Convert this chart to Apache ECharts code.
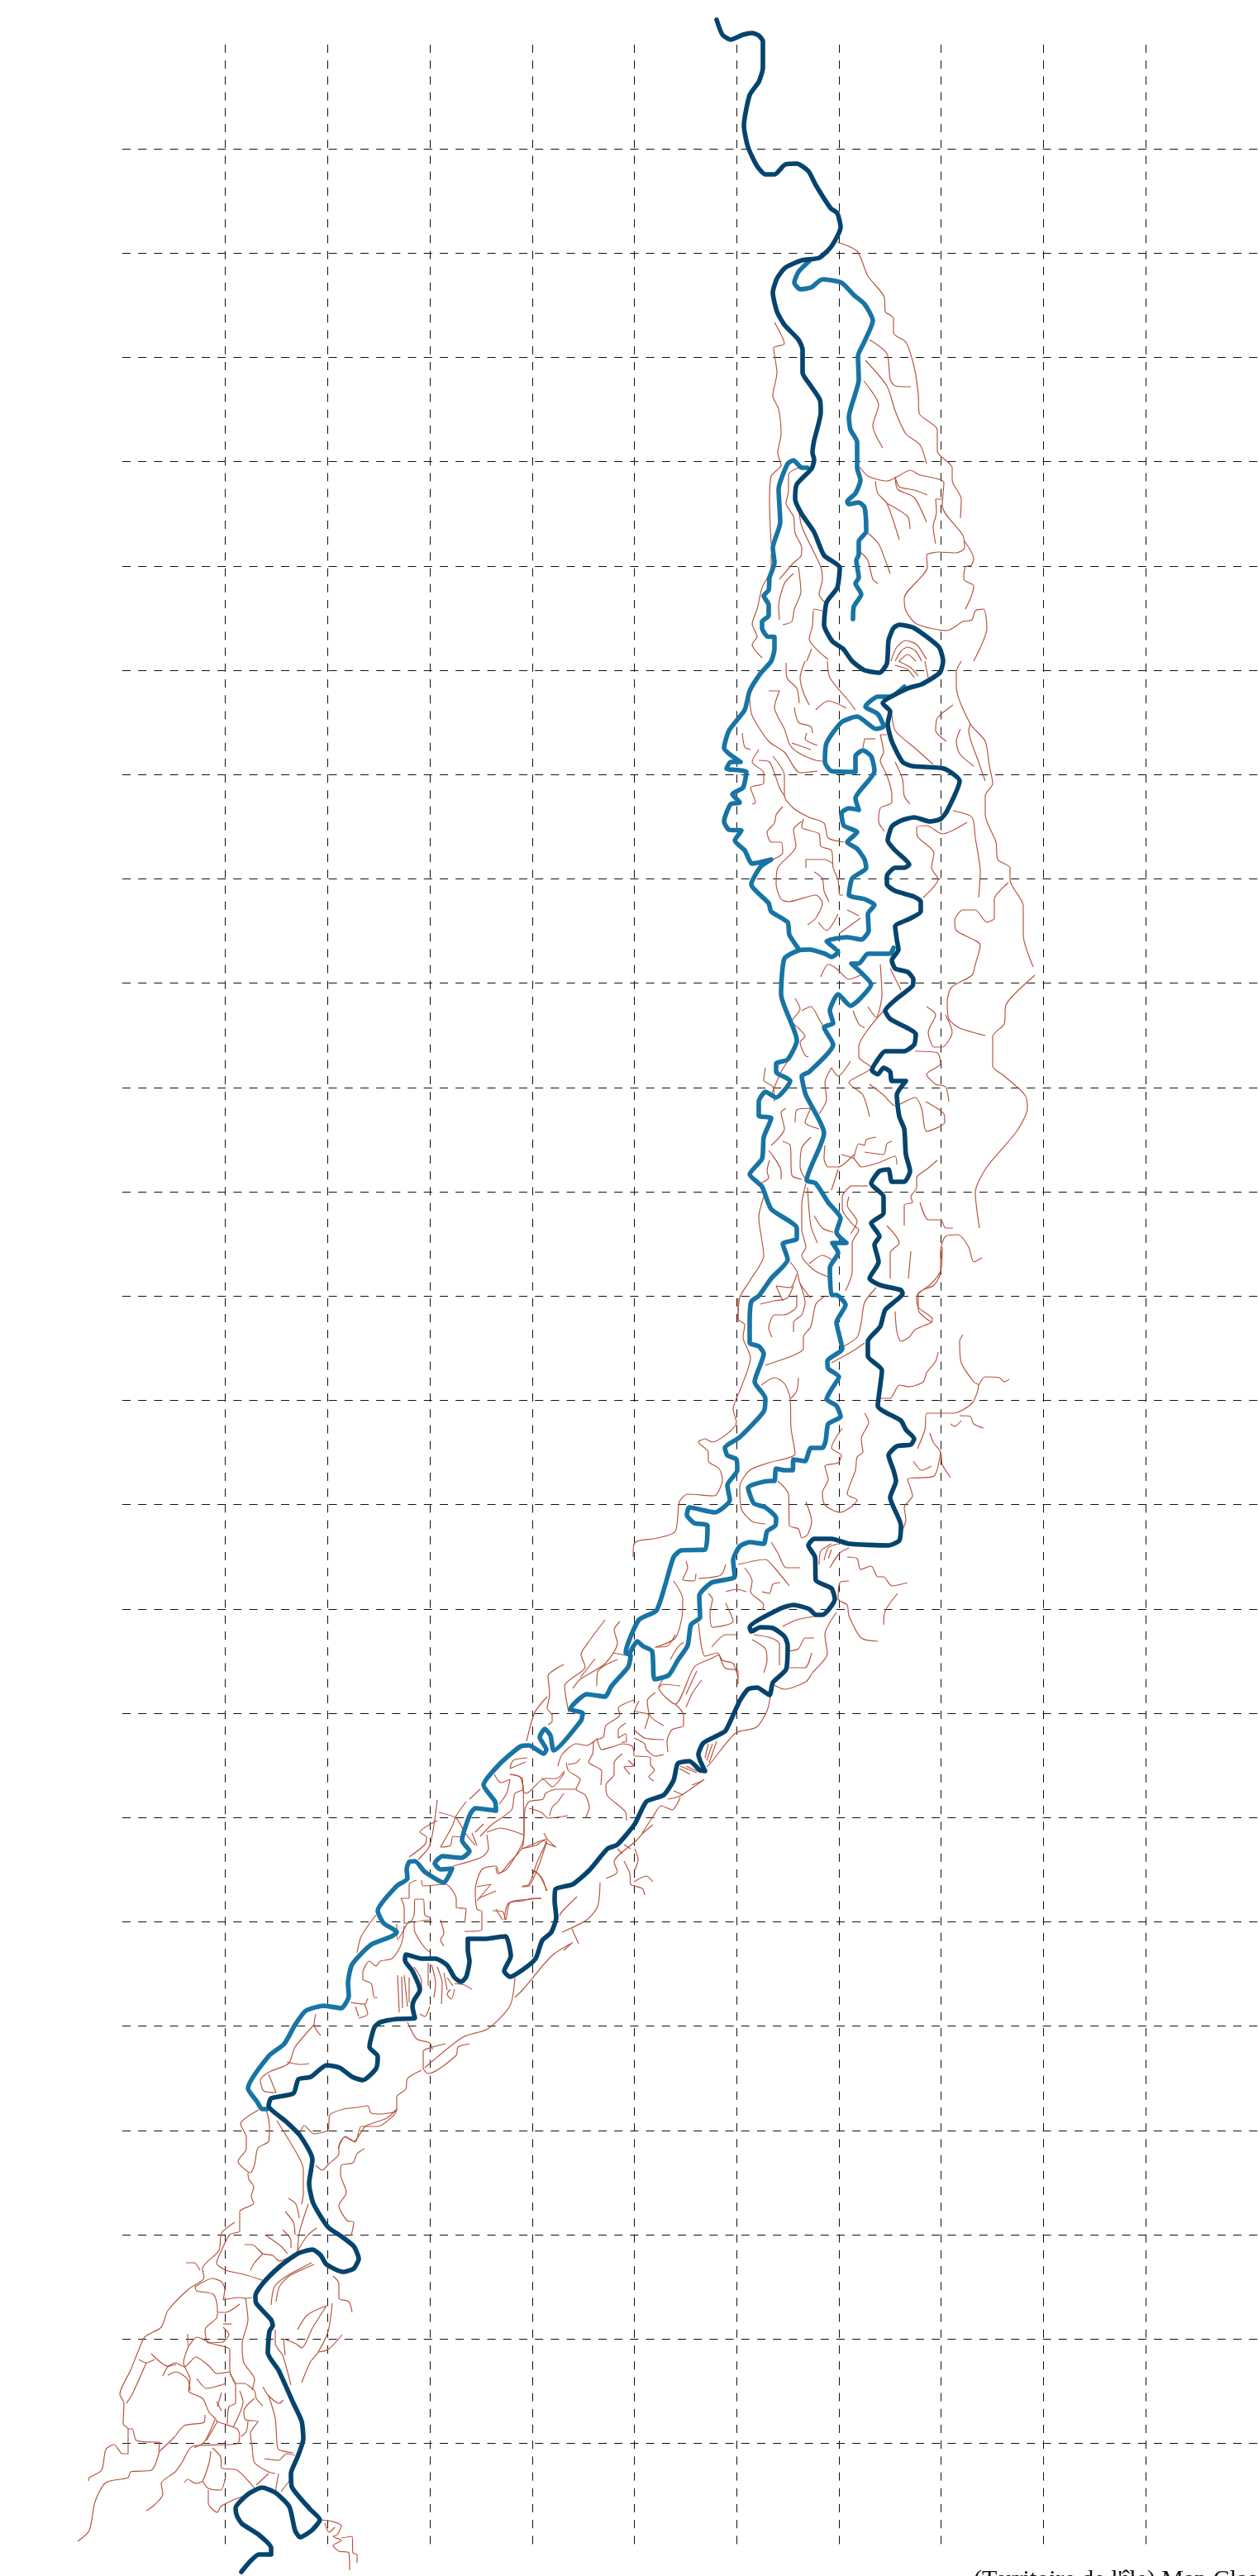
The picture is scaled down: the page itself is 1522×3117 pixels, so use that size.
<!DOCTYPE html>
<html><head><meta charset="utf-8">
<style>html,body{margin:0;padding:0;background:#fff}#c{width:1522px;height:3117px}</style>
<script src="https://cdn.jsdelivr.net/npm/echarts@6/dist/echarts.min.js"></script>
</head><body><div id="c"></div>
<script>
// Map traces, in page-scaled map units (x east, y south)
const channelMain = [[867,24],[874,42],[884,48],[899,42],[910,40],[918,43],[923,50],[923,82],[918,99],[907,115],[900,152],[905,178],[916,201],[926,211],[937,211],[950,199],[964,198],[978,207],[987,224],[1005,252],[1013,258],[1017,275],[1006,298],[991,312],[970,315],[950,324],[940,337],[935,354],[940,377],[949,393],[966,411],[971,423],[971,451],[981,467],[992,484],[993,499],[985,533],[983,548],[985,556],[982,567],[964,586],[962,604],[970,622],[985,644],[997,672],[1016,687],[1013,711],[1000,729],[997,756],[1007,776],[1020,785],[1031,800],[1046,811],[1064,814],[1073,803],[1075,775],[1081,760],[1088,756],[1106,760],[1136,783],[1141,800],[1137,814],[1115,828],[1098,833],[1068,851],[1077,861],[1074,876],[1079,897],[1092,922],[1104,927],[1142,930],[1161,945],[1146,981],[1138,991],[1125,994],[1106,989],[1090,993],[1079,1000],[1074,1017],[1083,1029],[1100,1046],[1094,1050],[1083,1050],[1073,1060],[1073,1070],[1083,1078],[1106,1085],[1114,1091],[1114,1103],[1102,1111],[1083,1121],[1085,1137],[1087,1149],[1079,1162],[1083,1172],[1098,1176],[1105,1185],[1104,1193],[1083,1210],[1071,1223],[1077,1233],[1098,1244],[1108,1251],[1106,1264],[1094,1272],[1071,1272],[1062,1282],[1055,1295],[1062,1300],[1069,1292],[1077,1297],[1079,1308],[1096,1308],[1085,1325],[1088,1351],[1094,1366],[1096,1397],[1101,1417],[1094,1430],[1079,1430],[1075,1415],[1064,1417],[1054,1432],[1069,1448],[1069,1468],[1054,1480],[1064,1496],[1058,1506],[1063,1527],[1052,1547],[1065,1555],[1090,1561],[1092,1565],[1071,1585],[1065,1605],[1050,1623],[1050,1641],[1067,1658],[1062,1701],[1090,1719],[1096,1730],[1106,1741],[1102,1748],[1085,1750],[1075,1761],[1081,1779],[1084,1792],[1077,1812],[1090,1846],[1088,1864],[1075,1870],[1027,1868],[1006,1862],[985,1862],[978,1870],[986,1884],[987,1912],[1006,1922],[1010,1935],[995,1954],[987,1954],[979,1947],[960,1942],[945,1946],[907,1969],[909,1974],[920,1969],[935,1970],[949,1980],[953,1991],[951,2020],[935,2036],[931,2051],[916,2042],[905,2044],[895,2058],[878,2094],[868,2100],[851,2109],[845,2123],[853,2143],[847,2142],[834,2131],[820,2134],[815,2154],[803,2172],[782,2180],[768,2207],[747,2232],[735,2237],[713,2263],[693,2280],[672,2286],[671,2300],[673,2320],[667,2338],[656,2348],[648,2370],[633,2383],[617,2392],[610,2385],[618,2367],[612,2343],[602,2344],[587,2346],[566,2346],[566,2360],[568,2373],[564,2392],[558,2398],[550,2393],[541,2378],[527,2370],[510,2370],[491,2365],[490,2372],[499,2385],[508,2408],[501,2420],[499,2428],[502,2442],[480,2443],[460,2447],[453,2453],[447,2477],[457,2488],[455,2503],[439,2517],[426,2513],[411,2502],[395,2499],[376,2513],[361,2516],[355,2533],[328,2539],[325,2548],[346,2567],[363,2584],[378,2613],[374,2642],[379,2666],[397,2695],[413,2706],[428,2718],[434,2733],[428,2745],[415,2749],[395,2740],[388,2729],[378,2722],[360,2727],[338,2743],[318,2763],[309,2778],[310,2787],[328,2807],[330,2814],[326,2821],[324,2847],[337,2868],[355,2908],[365,2930],[367,2951],[360,2973],[352,2993],[353,3009],[375,3036],[387,3049],[377,3062],[363,3070],[357,3062],[350,3033],[333,3016],[317,3010],[300,3018],[285,3035],[287,3045],[293,3054],[313,3067],[328,3083],[328,3091],[313,3091],[302,3100],[292,3112]];
const channelEastStub = [[979,316],[966,329],[961,342],[968,350],[981,348],[995,338],[1018,342],[1033,357],[1046,368],[1056,388],[1046,413],[1038,431],[1039,459],[1027,505],[1029,520],[1037,535],[1037,566],[1041,581],[1035,597],[1025,607],[1027,610],[1039,608],[1046,614],[1048,643],[1039,655],[1039,671],[1036,678],[1039,699],[1035,706],[1042,719],[1033,734],[1032,749]];
const channelWest = [[977,566],[970,566],[960,557],[953,561],[942,592],[944,632],[935,663],[937,681],[931,699],[930,714],[924,721],[930,732],[930,745],[922,752],[922,760],[928,770],[937,771],[937,785],[933,800],[920,815],[907,836],[901,859],[882,884],[876,905],[896,922],[884,922],[879,930],[903,934],[899,953],[886,961],[895,971],[884,973],[876,994],[882,1004],[897,1005],[889,1017],[901,1029],[910,1045],[933,1040],[920,1049],[909,1070],[930,1093],[933,1103],[953,1116],[955,1131],[966,1148]];
const channelMiddle = [[1094,831],[1077,843],[1062,843],[1047,855],[1062,864],[1069,879],[1060,882],[1037,867],[1018,874],[1000,899],[998,922],[1006,933],[1035,934],[1035,915],[1044,908],[1054,915],[1058,933],[1035,966],[1039,980],[1027,978],[1018,984],[1021,999],[1037,1007],[1025,1019],[1037,1027],[1046,1040],[1048,1050],[1031,1063],[1027,1083],[1046,1088],[1058,1095],[1050,1106],[1051,1126],[1042,1137],[1025,1134],[1000,1139],[1014,1152],[1006,1158],[998,1154],[979,1149],[966,1150],[949,1160],[945,1203],[964,1259],[953,1282],[939,1287],[939,1297],[956,1308],[939,1328],[926,1321],[918,1333],[918,1350],[933,1353],[924,1376],[922,1402],[907,1421],[922,1436],[933,1463],[964,1486],[964,1499],[947,1505],[953,1524],[933,1547],[918,1568],[909,1575],[907,1600],[907,1625],[918,1629],[924,1638],[913,1672],[926,1692],[924,1708],[895,1739],[877,1752],[880,1761],[891,1766],[892,1779],[880,1797],[883,1815],[865,1830],[834,1824],[831,1833],[840,1843],[856,1846],[853,1875],[824,1876],[815,1884],[805,1917],[794,1949],[773,1960],[757,2000],[763,2003],[760,2017],[740,2040],[732,2053],[710,2050],[690,2068],[705,2073],[703,2082],[670,2118],[666,2100],[659,2092],[653,2102],[661,2117],[658,2122],[640,2112],[630,2113],[604,2135],[585,2160],[599,2180],[600,2191],[575,2188],[568,2197],[559,2227],[568,2240],[558,2248],[535,2246],[526,2255],[533,2262],[547,2261],[537,2278],[514,2265],[502,2252],[495,2253],[492,2262],[493,2273],[480,2282],[457,2312],[464,2327],[480,2338],[474,2343],[449,2353],[426,2377],[421,2400],[422,2415],[413,2430],[392,2427],[370,2433],[357,2450],[344,2473],[325,2488],[300,2527],[311,2543],[317,2552],[323,2552]];
const channelInner = [[1081,1147],[1077,1154],[1050,1154],[1039,1166],[1030,1166],[1042,1177],[1054,1191],[1039,1210],[1029,1217],[1014,1203],[1004,1223],[1008,1238],[997,1243],[1008,1264],[979,1297],[970,1302],[975,1325],[997,1371],[976,1428],[987,1432],[1002,1455],[1017,1474],[1012,1491],[1024,1504],[1007,1504],[1014,1516],[1004,1534],[1006,1567],[1012,1567],[1023,1579],[1012,1600],[1016,1618],[1019,1632],[1001,1647],[1002,1656],[1015,1666],[1006,1681],[1000,1693],[1012,1701],[1017,1714],[1002,1723],[999,1743],[995,1752],[981,1752],[974,1768],[960,1766],[959,1779],[949,1779],[939,1777],[937,1792],[931,1792],[905,1800],[912,1819],[926,1824],[939,1837],[938,1846],[928,1853],[924,1868],[907,1866],[895,1871],[887,1888],[889,1908],[861,1915],[846,1931],[847,1957],[836,1966],[832,1991],[820,2009],[809,2027],[792,2032],[789,1998],[778,1992],[771,1986],[762,2000]];

const tributariesNorth = [
[[1013,293],[1037,304],[1050,334],[1070,360],[1071,377],[1081,385],[1081,403],[1096,414],[1106,444],[1111,477],[1112,500],[1134,520],[1134,546],[1152,566],[1152,581],[1163,604],[1162,627]],
[[1052,411],[1073,428],[1077,459],[1083,467],[1102,468]],
[[1047,436],[1073,467],[1083,497],[1096,525],[1113,538],[1121,561]],
[[1045,461],[1063,490],[1056,515],[1068,542]],
[[937,390],[949,416],[936,421],[940,451],[935,479],[942,495],[945,525],[941,548],[945,563],[933,576],[931,609],[933,658]],
[[1040,565],[1050,576],[1073,582],[1102,569],[1111,574],[1142,584],[1140,612],[1165,648],[1167,663],[1157,669],[1136,668],[1121,672],[1122,686],[1094,724],[1096,739],[1109,755],[1146,763],[1165,752],[1176,750],[1180,739],[1190,737],[1194,760],[1178,800]],
[[1167,655],[1178,676],[1175,684],[1168,686],[1166,701],[1178,709],[1175,722],[1168,737]],
[[1083,577],[1088,589],[1106,593],[1122,599]],
[[1083,577],[1086,592],[1106,602],[1121,632]],
[[1059,582],[1062,597],[1073,609],[1088,653]],
[[1073,609],[1098,625],[1101,640]],
[[1140,604],[1132,604],[1133,620],[1129,637],[1132,658]],
[[1050,645],[1063,658],[1073,683],[1077,694]],
[[1041,668],[1050,678],[1056,701],[1062,706]],
[[966,566],[954,574],[954,594],[951,609],[960,625],[962,645],[970,663],[969,673],[960,681],[943,701]],
[[966,612],[970,637],[993,686],[995,701],[991,719],[998,729]],
[[933,671],[933,688],[922,711],[916,737],[910,755],[916,770],[910,780],[922,796]],
[[960,694],[949,706],[942,734],[943,750]],
[[966,686],[969,716],[961,737],[958,752],[947,756]],
[[995,739],[985,737],[983,757],[979,773],[1002,798]],
[[1078,800],[1085,783],[1096,775],[1109,780],[1121,798]],
[[1083,800],[1090,788],[1098,783],[1108,788],[1115,800]],
[[1088,800],[1098,792],[1108,800]],
[[1083,805],[1098,810],[1106,820]],
[[1087,800],[1102,808],[1111,818]],
[[1119,800],[1123,820]],
[[982,785],[976,800]],
[[974,800],[968,820],[972,838],[979,853]],
[[951,802],[952,820],[964,833],[967,851]],
[[1001,800],[1004,820],[1025,846],[1035,859]],
[[987,859],[1002,848],[1012,851],[1024,857]],
[[930,836],[943,836],[937,856],[949,882],[956,902],[968,912],[987,920],[995,921]],
[[907,846],[910,866],[930,897],[949,910],[968,935],[989,933]],
[[961,856],[966,874],[981,879],[983,887]],
[[976,887],[974,894],[989,902]],
[[958,899],[981,907]],
[[898,887],[901,904],[908,907]],
[[935,915],[949,938],[949,963],[960,978],[979,989],[997,996],[1002,1014],[1021,1019]],
[[918,907],[910,922],[924,935],[924,948],[908,953],[914,971],[910,973]],
[[918,920],[931,922],[943,953],[949,963]],
[[947,976],[939,986],[937,996],[928,1007],[933,1019],[945,1019],[947,1032],[935,1040]],
[[970,994],[960,1004],[963,1024],[941,1050],[939,1070],[945,1088],[954,1091],[987,1083],[995,1093],[987,1111],[977,1119]],
[[972,991],[970,1001],[991,1009],[993,1024],[1006,1029],[1008,1050],[1014,1065],[1016,1083],[1020,1083]],
[[975,1050],[975,1040],[987,1040],[997,1040],[1008,1045]],
[[985,1055],[995,1063],[997,1078],[1003,1091]],
[[1046,894],[1059,894]],
[[1046,894],[1044,905]],
[[1073,889],[1065,889],[1069,910],[1065,920],[1073,938],[1079,961],[1079,971],[1065,978],[1063,994],[1070,1006]],
[[1083,922],[1092,943],[1094,963],[1101,973]],
[[1079,864],[1083,884],[1109,907],[1129,925]],
[[1153,853],[1134,869],[1132,884],[1145,897]],
[[1162,882],[1157,897],[1161,912],[1178,927]],
[[1174,876],[1172,884],[1184,922],[1192,945]],
[[1163,800],[1157,813],[1157,831],[1174,876],[1192,897],[1197,927],[1201,948],[1192,963],[1192,986],[1205,1019],[1207,1040],[1222,1050],[1222,1065],[1238,1096],[1238,1131],[1250,1170]],
[[1153,981],[1176,989],[1180,1014],[1186,1055],[1184,1086]],
[[1170,995],[1140,1009],[1121,999],[1109,1001],[1110,1012],[1130,1032],[1127,1050],[1135,1064],[1117,1086]],
[[1220,1068],[1203,1088],[1203,1111],[1194,1116],[1180,1101],[1165,1101],[1155,1114],[1157,1126],[1186,1144],[1180,1167],[1176,1180],[1151,1195],[1146,1213],[1148,1233],[1161,1244],[1192,1253]],
[[1252,1180],[1217,1216],[1215,1239],[1201,1254],[1201,1290],[1215,1302],[1240,1325],[1243,1341],[1230,1369],[1194,1412],[1180,1443],[1185,1486]]
];
const tributariesMiddle = [
[[1121,1218],[1132,1228],[1123,1249],[1130,1267],[1140,1267],[1152,1249],[1144,1228]],
[[1107,1272],[1134,1274],[1138,1287],[1121,1300],[1132,1312],[1144,1315],[1148,1333]],
[[1120,1333],[1142,1348],[1143,1358],[1121,1369],[1115,1341],[1107,1328],[1083,1338],[1069,1325],[1052,1312]],
[[1069,1223],[1039,1267],[1039,1279],[1054,1292],[1027,1310],[1044,1325],[1052,1351]],
[[1065,1167],[1067,1203],[1060,1231],[1050,1218]],
[[1077,1172],[1090,1198]],
[[993,1182],[1002,1167],[1012,1172],[1027,1185],[1041,1180]],
[[1032,1223],[1039,1239],[1046,1244]],
[[962,1208],[968,1221],[958,1236],[966,1244],[974,1254],[968,1261],[974,1277],[978,1279]],
[[970,1223],[981,1218],[991,1233],[997,1244]],
[[990,1116],[1000,1126],[1014,1106]],
[[1016,1129],[1041,1111]],
[[1025,1101],[1039,1108]],
[[926,1292],[924,1307],[935,1315],[937,1333]],
[[953,1284],[945,1297],[933,1325]],
[[1006,1292],[1014,1302],[1029,1284]],
[[1006,1292],[998,1310],[1000,1330],[991,1348]],
[[951,1341],[945,1346],[949,1366],[933,1386]],
[[962,1358],[964,1343],[981,1341],[974,1358],[991,1366]],
[[947,1381],[956,1386],[958,1422],[970,1427]],
[[981,1376],[970,1389],[968,1412],[975,1428]],
[[930,1392],[945,1417],[945,1427]],
[[931,1404],[928,1417],[930,1425],[920,1432]],
[[998,1386],[997,1402],[1002,1412],[1014,1412],[1033,1397]],
[[1018,1397],[1033,1402],[1042,1412],[1063,1407],[1083,1399],[1085,1409]],
[[1033,1402],[1039,1384],[1046,1386],[1048,1379],[1060,1376]],
[[1046,1394],[1069,1397],[1073,1384],[1079,1381]],
[[1006,1440],[1014,1415]],
[[1134,1404],[1121,1415],[1109,1425],[1109,1437],[1102,1448],[1104,1455],[1094,1458],[1094,1483]],
[[1113,1455],[1123,1476],[1138,1476],[1144,1486],[1153,1486]],
[[1188,1522],[1178,1527],[1172,1509],[1159,1494],[1144,1496],[1138,1514],[1138,1539],[1130,1555],[1111,1565],[1111,1585],[1127,1600]],
[[1102,1514],[1099,1547]],
[[1073,1483],[1088,1504],[1077,1516],[1077,1547]],
[[1029,1435],[1019,1448],[1019,1463],[1033,1483],[1039,1488],[1031,1504],[1031,1539],[1023,1562]],
[[1050,1435],[1029,1435]],
[[1027,1448],[1025,1458],[1037,1478],[1029,1493]],
[[975,1432],[970,1458],[970,1488],[975,1509],[970,1519],[985,1537],[1002,1545]],
[[977,1437],[981,1483],[989,1504]],
[[985,1471],[995,1486],[1008,1491]],
[[979,1529],[995,1519],[1006,1524]],
[[924,1448],[918,1473],[924,1519],[907,1550],[895,1570],[893,1600]],
[[956,1527],[964,1538],[968,1553],[981,1571]],
[[964,1542],[956,1558],[939,1556],[947,1574]],
[[920,1578],[937,1574],[952,1571],[960,1556]],
[[968,1553],[974,1576],[970,1591],[960,1600],[960,1612]],
[[964,1567],[964,1580],[949,1591],[937,1591],[930,1607],[934,1618]],
[[997,1569],[987,1578],[981,1605],[972,1618],[972,1632],[960,1640],[926,1652]],
[[1060,1558],[1046,1576],[1042,1600],[1037,1618],[1021,1629]],
[[1046,1625],[1033,1634],[1006,1649]],
[[1083,1587],[1085,1611],[1090,1623],[1100,1618],[1107,1609],[1127,1600],[1128,1596],[1111,1582],[1109,1569],[1127,1553],[1138,1538],[1140,1509]],
[[893,1571],[893,1596],[901,1603],[899,1618],[908,1643],[897,1678],[887,1705],[891,1721],[861,1745],[853,1741],[845,1745],[857,1757],[857,1768],[870,1777],[874,1790],[864,1810],[832,1808],[822,1817],[817,1853],[796,1861],[774,1864],[767,1868],[766,1884]],
[[921,1676],[937,1667],[949,1674],[956,1692],[957,1728],[962,1759],[930,1770],[907,1779],[895,1799],[897,1826],[910,1841],[926,1844]],
[[966,1667],[964,1683],[957,1692]],
[[941,1792],[954,1808],[955,1846],[966,1850],[970,1861],[977,1857],[982,1841],[975,1817]],
[[1019,1728],[1006,1752],[1018,1761],[1014,1770],[998,1774],[1002,1790],[995,1806],[998,1821],[1016,1830],[1029,1824],[1037,1815],[1025,1808],[1035,1779],[1037,1763],[1044,1757],[1042,1741],[1051,1721],[1046,1710]],
[[1135,1636],[1132,1647],[1121,1661],[1117,1672],[1100,1678],[1088,1676],[1077,1692],[1065,1692]],
[[1165,1615],[1161,1623],[1163,1649],[1178,1672],[1184,1676],[1176,1698],[1153,1710],[1121,1710],[1119,1730],[1110,1753]],
[[1184,1676],[1192,1666],[1209,1667],[1215,1672],[1221,1669]],
[[1150,1723],[1155,1726],[1163,1719]],
[[1161,1713],[1174,1714],[1178,1723],[1190,1728]],
[[1125,1734],[1129,1745],[1138,1757],[1140,1772],[1150,1788]],
[[1138,1757],[1130,1786],[1098,1790],[1104,1810],[1094,1824],[1096,1839],[1090,1855]],
[[1105,1768],[1115,1779],[1127,1774]],
[[1025,1884],[1037,1886],[1041,1899],[1054,1895],[1062,1908],[1069,1908],[1079,1919],[1098,1915]],
[[991,1893],[993,1877],[1006,1868]],
[[997,1888],[1002,1873],[1014,1868]],
[[1002,1886],[1006,1875]],
[[1004,1897],[1016,1879],[1027,1873]],
[[1027,1913],[1016,1915],[1014,1935],[1025,1942],[1027,1955],[1042,1982],[1062,1986]],
[[1086,1928],[1071,1949],[1069,1966]],
[[1012,1951],[998,1978],[1001,2001],[983,2024],[975,2035],[949,2044],[935,2038]],
[[991,1955],[964,1960],[947,1968]],
[[912,1978],[933,1982],[943,1989],[943,2015]],
[[910,1984],[926,1995],[928,2009],[924,2024]],
[[982,2000],[974,2018],[954,2018]],
[[954,1998],[966,1995],[974,1982],[985,1982]],
[[893,1893],[926,1887],[937,1897],[955,1919]],
[[933,1866],[941,1879],[951,1897],[968,1897]],
[[901,1897],[910,1913],[908,1926],[924,1942],[922,1948]],
[[922,1926],[931,1928],[935,1917],[944,1915]],
[[878,1893],[872,1906],[845,1910]],
[[830,1889],[832,1897],[826,1911],[840,1913],[842,1904]],
[[815,1913],[826,1935],[825,1957],[817,1982],[794,1993]],
[[857,1928],[862,1935],[859,1951],[862,1969],[887,1962],[878,1940]],
[[878,1926],[891,1923],[903,1926]],
[[845,1964],[853,2004],[868,2000],[874,2009],[887,2013],[893,2031]],
[[891,1978],[878,1978],[861,1993]]
];
const tributariesDelta = [
[[682,2014],[663,2028],[665,2050],[662,2067],[668,2075],[668,2083],[663,2087]],
[[662,2053],[647,2072],[637,2107]],
[[732,1960],[712,1987],[703,2002],[708,2017],[683,2040],[688,2072]],
[[750,1962],[743,1972],[747,1988],[732,2013],[702,2032],[693,2043]],
[[720,2007],[702,2030]],
[[742,2000],[757,2003]],
[[747,2008],[732,2015],[723,2023],[722,2040]],
[[792,1993],[807,1992],[817,1978]],
[[811,2008],[820,1993],[827,1987]],
[[870,2002],[860,2007],[840,2017],[817,2062],[797,2042],[802,2032]],
[[797,2042],[802,2038],[823,2040]],
[[843,2022],[830,2050]],
[[849,2033],[838,2048],[830,2066]],
[[870,2002],[877,2018],[893,2022],[893,2038]],
[[817,2062],[827,2075],[827,2088],[813,2093],[807,2107],[808,2120]],
[[767,2057],[748,2067],[750,2075],[733,2088],[730,2102],[722,2105],[710,2112],[697,2110],[680,2123],[675,2137]],
[[793,2048],[783,2058],[787,2077],[803,2088]],
[[773,2058],[768,2070],[785,2075],[780,2092]],
[[767,2093],[780,2103],[803,2105]],
[[767,2103],[780,2110],[782,2117],[793,2125],[803,2123]],
[[768,2125],[787,2127],[787,2135],[792,2142],[785,2150],[791,2155]],
[[760,2130],[767,2137],[755,2138],[762,2147]],
[[722,2103],[728,2117],[743,2113],[753,2110],[765,2113],[767,2125]],
[[718,2107],[717,2122],[712,2132],[728,2143],[727,2160]],
[[753,2122],[743,2133],[743,2147],[733,2160],[735,2173],[757,2193],[758,2203]],
[[757,2085],[748,2093],[748,2103],[757,2098],[758,2107],[752,2108]],
[[685,2133],[688,2143],[702,2153],[697,2165],[708,2172],[713,2187],[708,2200]],
[[687,2135],[697,2133],[702,2128]],
[[697,2165],[673,2165],[660,2170],[657,2177],[640,2180],[635,2190],[633,2227],[623,2247],[613,2262],[602,2267],[600,2260]],
[[683,2145],[668,2162],[657,2153],[637,2170],[633,2167],[632,2152],[617,2147]],
[[655,2152],[673,2152],[683,2143]],
[[682,2170],[675,2180],[668,2187],[665,2197]],
[[687,2197],[663,2200],[655,2193],[640,2188]],
[[672,2235],[662,2225],[658,2218]],
[[662,2227],[650,2253],[640,2280],[632,2282]],
[[632,2237],[653,2228],[662,2225]],
[[643,2263],[652,2268],[662,2288]],
[[655,2297],[643,2297],[633,2300],[615,2303],[610,2323]],
[[600,2310],[608,2323]],
[[698,2295],[680,2313],[677,2318]],
[[726,2278],[723,2307],[710,2323],[680,2338]],
[[692,2334],[700,2352]],
[[693,2350],[682,2360]],
[[932,2053],[928,2070],[915,2090],[890,2097],[860,2133],[855,2138]],
[[857,2110],[853,2127]],[[862,2110],[855,2130]],[[867,2107],[858,2133]],
[[822,2140],[835,2147]],[[823,2137],[843,2145]],[[830,2137],[848,2145]],
[[850,2155],[837,2160]],
[[852,2153],[823,2173],[808,2177]],
[[823,2175],[813,2190],[800,2185],[790,2198],[777,2218]],
[[815,2167],[827,2172]],
[[790,2208],[778,2218],[770,2227],[743,2253],[747,2265],[733,2273]],
[[755,2232],[763,2237]],[[747,2237],[753,2243]],
[[768,2237],[772,2250],[768,2263]],
[[755,2252],[762,2267],[763,2280],[777,2285],[780,2293]],
[[767,2277],[782,2270],[790,2277]],
[[529,2178],[520,2233],[506,2250]],
[[495,2247],[514,2232],[516,2223],[508,2217],[529,2203]],
[[531,2193],[552,2200],[562,2217],[575,2233]],
[[564,2180],[552,2197],[547,2210],[533,2235],[545,2233],[548,2222],[558,2223]],
[[568,2177],[581,2165]],
[[598,2147],[606,2157],[617,2153],[613,2170],[604,2183]],
[[638,2127],[621,2130],[617,2140],[636,2132]],
[[617,2147],[629,2150],[633,2165],[623,2170],[619,2190],[596,2207],[581,2222]],
[[575,2217],[585,2207]],
[[571,2218],[577,2233]],
[[589,2220],[591,2237],[583,2247],[548,2258]],
[[589,2217],[606,2212],[619,2215],[633,2220]],
[[633,2160],[634,2220],[631,2237],[617,2253],[604,2267],[600,2258],[583,2262],[575,2287],[577,2310],[583,2313],[583,2335],[562,2337]],
[[631,2237],[648,2233],[659,2227],[661,2230],[673,2235]],
[[661,2230],[652,2257],[640,2282],[631,2283]],
[[646,2263],[656,2273],[661,2288]],
[[577,2283],[594,2280],[577,2300]],
[[579,2297],[600,2288]],
[[655,2297],[644,2298],[617,2302],[612,2323],[608,2313],[596,2312]],
[[510,2275],[512,2282],[539,2280],[552,2298],[552,2308],[564,2310],[562,2327]],
[[504,2275],[495,2280],[495,2297],[485,2297],[489,2308],[489,2327],[495,2327],[501,2317],[502,2298],[512,2298],[514,2317],[520,2320]],
[[522,2323],[501,2327],[502,2338],[514,2357],[520,2362]],
[[480,2328],[481,2347],[493,2327]],
[[489,2330],[487,2347],[483,2358],[474,2370],[460,2373],[455,2379],[447,2373],[439,2387],[439,2395],[449,2400],[453,2417],[457,2417]],
[[455,2317],[437,2343],[432,2363]],
[[533,2323],[537,2340],[533,2347],[537,2355]],
[[481,2390],[483,2435]],[[489,2390],[493,2428]],[[495,2393],[495,2423]],[[486,2392],[487,2430]],
[[501,2380],[510,2397],[510,2407]],[[518,2375],[518,2403]],[[522,2377],[527,2400],[525,2417]],[[529,2380],[535,2400],[534,2425]],[[537,2387],[541,2408]],[[541,2393],[548,2403]],
[[545,2407],[541,2413],[546,2419],[550,2407]],
[[550,2400],[562,2402],[571,2407]],
[[508,2437],[514,2440],[520,2428]],
[[424,2423],[441,2425],[445,2418]],
[[441,2425],[445,2437],[434,2442]],
[[430,2428],[434,2440]],
[[623,2393],[617,2427],[590,2455],[560,2465],[514,2502]],
[[623,2417],[633,2407],[667,2367],[690,2352]],
[[493,2447],[504,2467],[520,2472],[523,2480]],
[[539,2473],[520,2478],[512,2482],[512,2502],[518,2509],[552,2487],[554,2477],[568,2473]],
[[510,2505],[493,2515],[491,2528],[480,2537],[480,2553],[462,2558],[449,2557],[445,2548],[432,2550],[416,2552],[399,2559],[397,2577],[380,2582],[368,2572],[363,2580]],
[[480,2553],[476,2560],[457,2573],[437,2573],[430,2592],[418,2585],[409,2600]],
[[382,2437],[380,2450],[388,2463]],
[[380,2450],[357,2477],[349,2497],[326,2507],[315,2517],[319,2530],[334,2532],[325,2510]],
[[347,2495],[363,2498],[374,2497]]
];
const tributariesSouth = [
[[322,2552],[326,2572],[325,2591],[312,2599],[308,2619],[303,2629],[288,2615],[298,2600],[298,2586],[291,2570],[313,2553]],
[[300,2629],[301,2637],[307,2646],[304,2658],[307,2666],[290,2676],[290,2695],[290,2700],[278,2704],[268,2723],[262,2738],[273,2747],[295,2752],[320,2760]],
[[284,2689],[268,2702],[265,2723],[245,2745],[247,2756],[228,2770],[203,2796],[195,2816],[175,2828],[168,2843],[158,2868],[145,2897],[150,2908],[149,2933],[155,2939],[155,2969],[148,2969],[138,2958],[128,2964],[123,2989],[108,2998],[107,3002]],
[[225,2738],[235,2738],[242,2747]],
[[236,2767],[257,2757],[268,2761],[272,2770],[270,2783],[290,2780],[297,2781],[305,2780]],
[[236,2767],[238,2772],[258,2776],[263,2792],[263,2798],[273,2798],[290,2788]],
[[297,2781],[300,2807],[293,2836],[295,2859],[308,2879],[305,2892]],
[[263,2799],[262,2805],[248,2819],[252,2835],[270,2834]],
[[270,2812],[280,2812]],
[[270,2816],[277,2825],[270,2834]],
[[227,2824],[228,2839],[238,2828],[257,2836],[278,2843],[278,2868],[280,2875],[285,2884],[295,2884],[308,2893],[310,2902],[318,2911]],
[[228,2839],[222,2859],[230,2879],[228,2893],[245,2902],[253,2919],[260,2926],[263,2930],[287,2939],[290,2948],[287,2957],[233,2960],[220,2980],[212,2991],[195,3005],[197,3018],[187,3031],[177,3038]],
[[183,2848],[203,2863],[212,2859],[223,2864],[237,2852],[253,2863],[262,2872],[278,2870]],
[[168,2855],[177,2859],[187,2855]],
[[177,2859],[160,2897],[153,2908]],
[[197,2875],[203,2864],[213,2861]],
[[203,2874],[213,2870],[227,2879],[230,2893]],
[[238,2878],[250,2890],[273,2884]],
[[263,2912],[268,2895]],
[[262,2906],[268,2917]],
[[278,2872],[285,2886],[285,2908],[277,2912],[275,2933]],
[[290,2893],[294,2906],[282,2937]],
[[308,2902],[295,2917],[297,2928],[312,2930],[303,2944],[305,2960],[308,2980],[325,2991],[333,2993]],
[[300,2930],[298,2942],[292,2948]],
[[318,2888],[325,2899],[338,2908],[343,2904]],
[[325,2899],[333,2926],[335,2955],[337,2964],[355,2968]],
[[320,2975],[337,2977],[347,2969],[357,2971]],
[[257,2962],[267,2973],[268,2986],[287,2989],[308,3011]],
[[255,2966],[253,2980],[245,3002],[237,3005],[227,3000],[223,3004]],
[[245,3002],[252,3011],[267,3013],[273,2996]],
[[252,3013],[252,3029],[263,3040],[267,3033],[282,3025],[293,3021]],
[[310,3007],[325,2993]],
[[333,3016],[337,2993]],
[[340,3015],[350,3002]],
[[192,2966],[193,2955],[188,2955],[165,2953],[160,2939],[155,2939]],
[[193,2966],[183,2989],[158,2991],[155,2998],[128,3004],[115,3027],[108,3062],[94,3075]],
[[260,2928],[247,2955],[235,2962]],
[[263,2930],[250,2953]],
[[248,2922],[247,2931],[223,2935],[210,2950],[193,2966]],
[[335,2566],[362,2611],[367,2626],[367,2655],[365,2667]],
[[373,2667],[362,2702],[360,2727]],
[[349,2660],[358,2667],[362,2684]],
[[345,2676],[355,2689],[357,2704]],
[[342,2698],[352,2711],[352,2720]],
[[322,2705],[340,2718],[348,2727]],
[[383,2696],[372,2705],[358,2727]],
[[296,2716],[305,2716],[318,2727],[330,2729],[338,2736],[350,2731]],
[[318,2727],[308,2738],[303,2747]],
[[377,2738],[347,2754],[332,2767],[328,2789]],
[[380,2740],[350,2754],[338,2767],[334,2785]],
[[395,2790],[372,2801],[360,2819]],
[[395,2790],[378,2817],[365,2841],[358,2836],[343,2830],[345,2850]],
[[402,2787],[397,2821],[385,2846],[375,2859],[365,2883]],
[[414,2825],[397,2843],[385,2846]],
[[333,2819],[333,2836],[342,2850],[352,2886]],
[[403,2754],[410,2763],[410,2781],[422,2785],[426,2798]],
[[480,2552],[468,2563],[442,2573],[428,2591],[417,2586],[410,2597],[410,2606],[397,2619],[390,2626],[382,2620]],
[[441,2600],[432,2606],[427,2617],[413,2620],[412,2631],[419,2653],[410,2669],[420,2687],[428,2689],[425,2705]],
[[388,3049],[402,3051],[413,3056],[408,3067],[403,3069],[413,3074],[403,3080],[410,3087],[422,3089],[423,3110]],
[[393,3053],[398,3064],[405,3058]],
[[413,3071],[426,3069],[427,3089],[432,3091],[432,3101]]
];

const parallelCount = 23;   // east-west graticule lines
const meridianCount = 10;   // north-south graticule lines
const mapNote = "(Territoire de l'île) Map Class";

const RED = '#b5513a', DARK = '#06446e', BLUE = '#1874a4';
const gridLine = { show: true, lineStyle: { type: [10, 9.2], color: '#111', width: 1 } };
const hiddenValue = (min, max) => ({ type: 'value', min, max, show: false });

const thin = (d) => ({ type: 'line', data: d, xAxisIndex: 0, yAxisIndex: 0, symbol: 'none', smooth: 0.25, silent: true, animation: false, z: 3,
  lineStyle: { color: RED, width: 1.15 } });
const river = (d, color, z) => ({ type: 'line', data: d, xAxisIndex: 0, yAxisIndex: 0, symbol: 'none', smooth: 0.2, silent: true, animation: false, z,
  lineStyle: { color, width: 5.6, cap: 'round', join: 'round' } });

const series = [];
[tributariesNorth, tributariesMiddle, tributariesDelta, tributariesSouth].forEach(g => g.forEach(p => series.push(thin(p))));
[channelEastStub, channelWest, channelMiddle, channelInner].forEach(p => series.push(river(p, BLUE, 5)));
series.push(river(channelMain, DARK, 6));

const chart = echarts.init(document.getElementById('c'), null, { renderer: 'canvas' });
chart.setOption({
  animation: false,
  backgroundColor: '#fff',
  title: { text: mapNote, left: 1178, top: 3107, padding: 0,
    textStyle: { fontFamily: '"Liberation Serif", serif', fontSize: 30, fontWeight: 'normal', color: '#111' } },
  grid: [
    { left: 0, top: 0, width: 1522, height: 3117 },
    { left: 148, top: 180, width: 1374, height: 2776.4 },
    { left: 272.7, top: 54, width: 1113.3, height: 3028 }
  ],
  xAxis: [
    hiddenValue(0, 1522),
    hiddenValue(0, 1),
    { type: 'value', min: 0, max: meridianCount - 1, interval: 1, axisLine: {show:false}, axisTick: {show:false}, axisLabel: {show:false}, splitLine: gridLine }
  ].map((a, i) => ({ gridIndex: i, ...a })),
  yAxis: [
    { ...hiddenValue(0, 3117), inverse: true },
    { type: 'value', min: 0, max: parallelCount - 1, interval: 1, axisLine: {show:false}, axisTick: {show:false}, axisLabel: {show:false}, splitLine: gridLine },
    hiddenValue(0, 1)
  ].map((a, i) => ({ gridIndex: i, ...a })),
  series
});
</script></body></html>
